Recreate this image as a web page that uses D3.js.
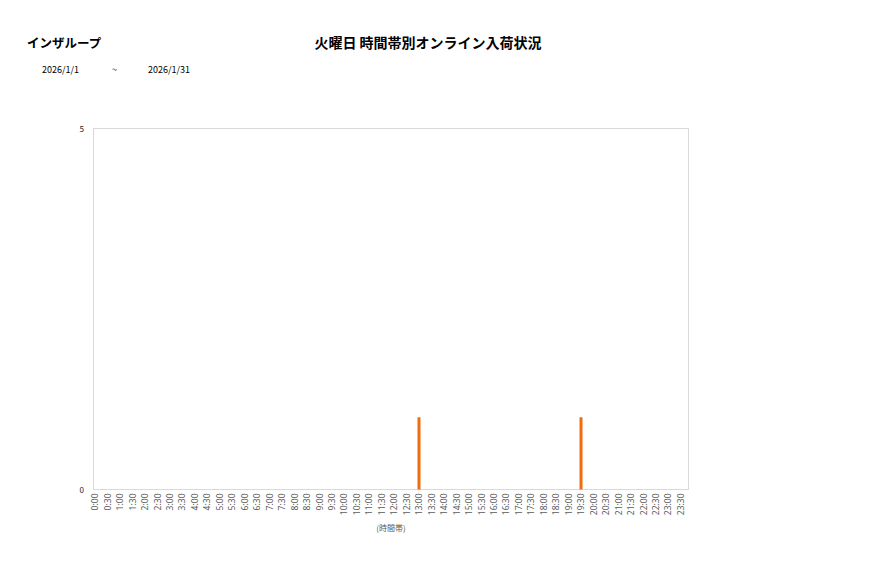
<!DOCTYPE html>
<html><head><meta charset="utf-8">
<script src="https://cdn.jsdelivr.net/npm/d3@7"></script>
<style>
html,body{margin:0;padding:0;background:#fff;}
text{font-family:"Noto Sans CJK JP","Noto Sans",sans-serif;}
</style></head>
<body>
<svg id="c" width="877" height="578"></svg>
<script>
const storeName = "インザループ";
const chartTitle = "火曜日 時間帯別オンライン入荷状況";
const dateFrom = "2026/1/1";
const dateSep = "~";
const dateTo = "2026/1/31";
const axisTitle = "(時間帯)";
const categories = [];
for (let h = 0; h < 24; h++) { categories.push(h + ":00"); categories.push(h + ":30"); }
const values = categories.map(c => (c === "13:00" || c === "19:30") ? 1 : 0);
const yTicks = [0, 5];

const svg = d3.select("#c");
const plot = {l: 93.5, r: 688.5, t: 128.5, b: 489.5};

const x = d3.scalePoint().domain(categories).range([95, 680.7]);
const y = d3.scaleLinear().domain([0, 5]).range([plot.b, plot.t]);

svg.append("text").attr("x", 27).attr("y", 48).attr("font-size", 12.5).attr("font-weight", "bold")
  .attr("fill", "#000").text(storeName);
svg.append("text").attr("x", 428).attr("y", 48).attr("text-anchor", "middle").attr("font-size", 14)
  .attr("font-weight", "bold").attr("fill", "#000").text(chartTitle);
svg.append("text").attr("x", 42).attr("y", 73).attr("font-size", 9).attr("fill", "#000").text(dateFrom);
svg.append("text").attr("x", 112).attr("y", 73).attr("font-size", 9).attr("fill", "#000").text(dateSep);
svg.append("text").attr("x", 148).attr("y", 73).attr("font-size", 9).attr("fill", "#000").text(dateTo);

svg.append("rect").attr("x", plot.l).attr("y", plot.t).attr("width", plot.r - plot.l)
  .attr("height", plot.b - plot.t).attr("fill", "none").attr("stroke", "#d9d9d9").attr("stroke-width", 1);

svg.selectAll("text.yt").data(yTicks).enter().append("text").attr("class", "yt")
  .attr("x", 84).attr("y", d => y(d) + 3).attr("text-anchor", "end")
  .attr("font-size", 8).attr("fill", "#222").text(d => d);

svg.selectAll("rect.bar").data(categories.map((c, i) => ({c, v: values[i]})).filter(d => d.v > 0))
  .enter().append("rect").attr("class", "bar")
  .attr("x", d => x(d.c) - 1.5).attr("width", 3)
  .attr("y", d => y(d.v)).attr("height", d => y(0) - y(d.v))
  .attr("fill", "#f26b0f");

const xAxis = svg.append("g").attr("transform", `translate(0,${plot.b})`)
  .call(d3.axisBottom(x).tickSize(0).tickPadding(0));
xAxis.select(".domain").remove();
xAxis.selectAll("text")
  .attr("transform", "rotate(-90)")
  .attr("x", -4).attr("y", 0).attr("dy", "0.32em")
  .style("text-anchor", "end")
  .attr("font-size", 8.5).attr("fill", "#595959")
  .style("font-family", '"Noto Sans","DejaVu Sans",sans-serif');

svg.append("text").attr("x", 391).attr("y", 531).attr("text-anchor", "middle").attr("font-size", 8)
  .attr("fill", "#595959").text(axisTitle);
</script>
</body></html>
